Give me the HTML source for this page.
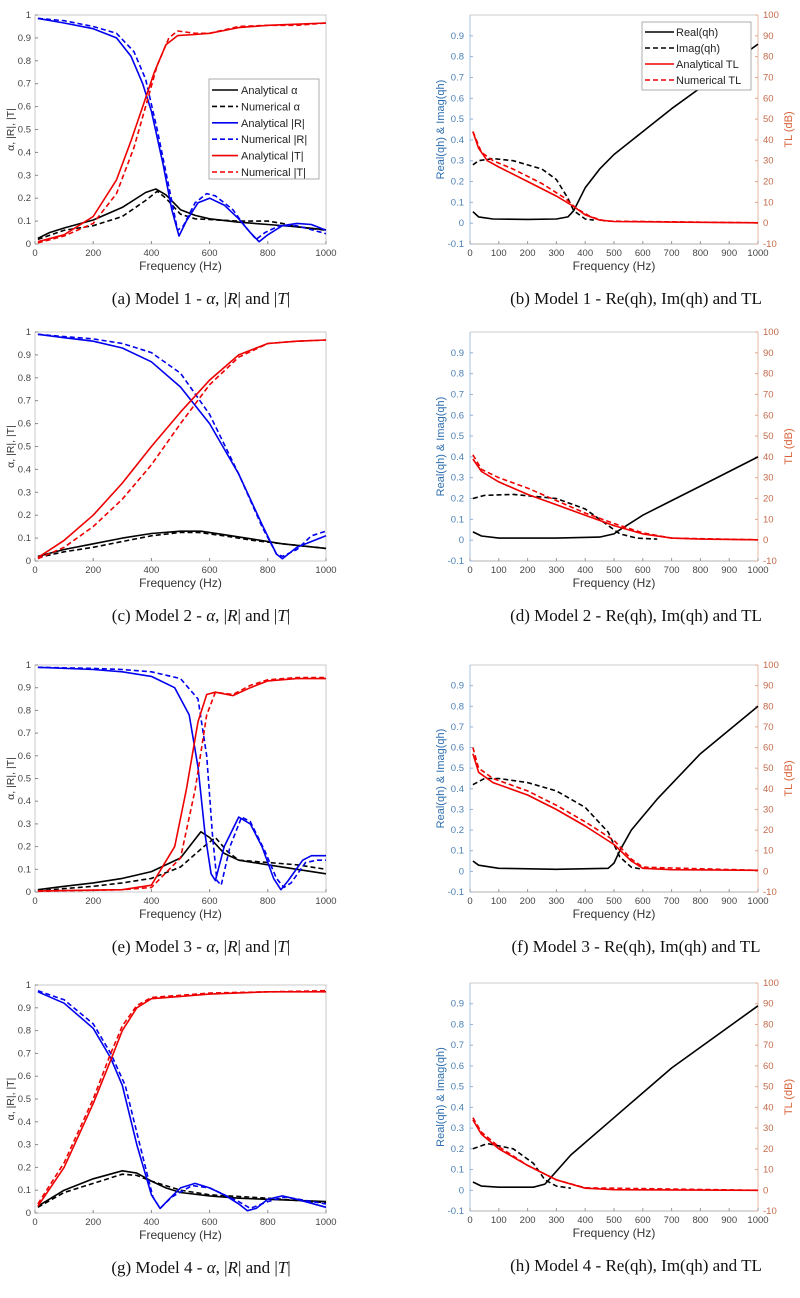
<!DOCTYPE html>
<html><head><meta charset="utf-8">
<style>
html,body{margin:0;padding:0;background:#fff;width:800px;height:1298px;overflow:hidden}
svg{display:block}
text{font-family:"Liberation Sans",sans-serif}
.cap{font-family:"Liberation Serif",serif;font-size:17px;fill:#111}
</style></head><body>
<svg id="s" width="800" height="1298" xmlns="http://www.w3.org/2000/svg"></svg>
<script>
const S=document.getElementById('s');let out='';
function path(pts,X,Y){const p=pts.map(q=>[X(q[0]),Y(q[1])]);let d='M'+p[0][0].toFixed(1)+','+p[0][1].toFixed(1);
for(let i=1;i<p.length;i++){d+='L'+p[i][0].toFixed(1)+','+p[i][1].toFixed(1);}return d;}
function line(pts,X,Y,col,dash){out+=`<path d="${path(pts,X,Y)}" fill="none" stroke="${col}" stroke-width="1.6" stroke-linejoin="round" ${dash?'stroke-dasharray="5,3"':''}/>`;}
function left(top,bot,cap,c,legend){const x0=35,x1=326;const X=f=>x0+(x1-x0)*f/1000,Y=v=>bot-(bot-top)*v;
out+=`<rect x="${x0}" y="${top}" width="${x1-x0}" height="${bot-top}" fill="none" stroke="#bbb" stroke-width="0.8"/>`;
for(let i=0;i<=10;i++){const y=Y(i/10);out+=`<line x1="${x0}" x2="${x0+3}" y1="${y}" y2="${y}" stroke="#888"/><text x="${x0-4}" y="${y+3}" font-size="9.5" fill="#444" text-anchor="end">${i==0?'0':i==10?'1':'0.'+i}</text>`;}
for(let f=0;f<=1000;f+=200){const x=X(f);out+=`<line x1="${x}" x2="${x}" y1="${bot}" y2="${bot-3}" stroke="#888"/><text x="${x}" y="${bot+12}" font-size="9.5" fill="#444" text-anchor="middle">${f}</text>`;}
out+=`<text x="${(x0+x1)/2}" y="${bot+26}" font-size="12" fill="#333" text-anchor="middle">Frequency (Hz)</text>`;
out+=`<text transform="translate(14,${(top+bot)/2}) rotate(-90)" font-size="10.5" fill="#333" text-anchor="middle">α, |R|, |T|</text>`;
line(c[0],X,Y,'#000');line(c[1],X,Y,'#000',1);line(c[2],X,Y,'#0000ee');line(c[3],X,Y,'#0000ee',1);line(c[4],X,Y,'#ee0000');line(c[5],X,Y,'#ee0000',1);
if(legend){out+=`<rect x="209" y="79" width="110" height="100" fill="#fff" stroke="#999" stroke-width="0.8"/>`;
const L=[['#000',0,'Analytical α'],['#000',1,'Numerical α'],['#0000ee',0,'Analytical |R|'],['#0000ee',1,'Numerical |R|'],['#ee0000',0,'Analytical |T|'],['#ee0000',1,'Numerical |T|']];
L.forEach((l,i)=>{const y=90+i*16.4;out+=`<line x1="212" x2="238" y1="${y}" y2="${y}" stroke="${l[0]}" stroke-width="1.6" ${l[1]?'stroke-dasharray="5,3"':''}/><text x="241" y="${y+4}" font-size="11" fill="#222">${l[2]}</text>`;});}
out+=`<text class="cap" x="201" y="${bot+60}" text-anchor="middle">${cap}</text>`;}
function right(top,bot,cap,c,legend){const x0=470,x1=758;const X=f=>x0+(x1-x0)*f/1000,Y=v=>bot-(bot-top)*(v+0.1)/1.1;
out+=`<line x1="${x0}" x2="${x1}" y1="${top}" y2="${top}" stroke="#bbb" stroke-width="0.8"/><line x1="${x0}" x2="${x1}" y1="${bot}" y2="${bot}" stroke="#999" stroke-width="0.8"/>`;
out+=`<line x1="${x0}" x2="${x0}" y1="${top}" y2="${bot}" stroke="#8fb3d9" stroke-width="0.8"/><line x1="${x1}" x2="${x1}" y1="${top}" y2="${bot}" stroke="#e0a88f" stroke-width="0.8"/>`;
for(let i=-1;i<=9;i++){const y=Y(i/10);out+=`<text x="${x0-6}" y="${y+3}" font-size="9.5" fill="#4a7fb3" text-anchor="end">${i==0?'0':i<0?'-0.1':'0.'+i}</text><line x1="${x0}" x2="${x0+3}" y1="${y}" y2="${y}" stroke="#8fb3d9"/>`;}
for(let i=-1;i<=10;i++){const y=Y(i/10);out+=`<text x="${x1+5}" y="${y+3}" font-size="9.5" fill="#c26a4a">${i*10}</text><line x1="${x1-3}" x2="${x1}" y1="${y}" y2="${y}" stroke="#e0a88f"/>`;}
for(let f=0;f<=1000;f+=100){const x=X(f);out+=`<text x="${x}" y="${bot+12}" font-size="9.5" fill="#444" text-anchor="middle">${f}</text><line x1="${x}" x2="${x}" y1="${bot}" y2="${bot-3}" stroke="#999"/>`;}
out+=`<text x="${(x0+x1)/2}" y="${bot+26}" font-size="12" fill="#333" text-anchor="middle">Frequency (Hz)</text>`;
out+=`<text transform="translate(444,${(top+bot)/2}) rotate(-90)" font-size="11" fill="#2f6fb0" text-anchor="middle">Real(qh) &amp; Imag(qh)</text>`;
out+=`<text transform="translate(792,${(top+bot)/2}) rotate(-90)" font-size="11" fill="#d9623a" text-anchor="middle">TL (dB)</text>`;
line(c[0],X,Y,'#000');line(c[1],X,Y,'#000',1);line(c[2],X,Y,'#ee0000');line(c[3],X,Y,'#ee0000',1);
if(legend){out+=`<rect x="642" y="22" width="109" height="68" fill="#fff" stroke="#999" stroke-width="0.8"/>`;
const L=[['#000',0,'Real(qh)'],['#000',1,'Imag(qh)'],['#ee0000',0,'Analytical TL'],['#ee0000',1,'Numerical TL']];
L.forEach((l,i)=>{const y=32+i*16;out+=`<line x1="645" x2="674" y1="${y}" y2="${y}" stroke="${l[0]}" stroke-width="1.6" ${l[1]?'stroke-dasharray="5,3"':''}/><text x="676" y="${y+4}" font-size="11" fill="#222">${l[2]}</text>`;});}
out+=`<text class="cap" x="636" y="${bot+60}" text-anchor="middle">${cap}</text>`;}

left(15,244,'(a) Model 1 - <tspan font-style="italic">α</tspan>, |<tspan font-style="italic">R</tspan>| and |<tspan font-style="italic">T</tspan>|',[
[[10,.025],[50,.05],[100,.07],[200,.105],[300,.16],[380,.225],[415,.24],[450,.215],[500,.15],[550,.125],[600,.11],[700,.095],[800,.085],[900,.075],[1000,.062]],
[[10,.02],[100,.06],[200,.08],[300,.12],[380,.19],[420,.23],[450,.2],[500,.13],[550,.11],[700,.1],[800,.1],[850,.09],[900,.075],[1000,.06]],
[[10,.985],[100,.965],[200,.94],[280,.9],[330,.82],[370,.7],[400,.58],[440,.35],[470,.15],[495,.035],[520,.1],[560,.18],[600,.2],[650,.17],[700,.11],[740,.05],[770,.01],[800,.04],[850,.08],[900,.09],[950,.085],[1000,.06]],
[[10,.985],[100,.975],[200,.95],[280,.92],[340,.84],[380,.72],[420,.5],[460,.25],[490,.06],[510,.08],[550,.18],[590,.22],[620,.21],[680,.15],[720,.08],[760,.02],[790,.05],[840,.08],[900,.08],[1000,.045]],
[[10,.01],[100,.04],[200,.12],[280,.28],[330,.45],[370,.6],[410,.75],[450,.87],[490,.91],[550,.915],[600,.92],[700,.945],[800,.955],[900,.96],[1000,.965]],
[[10,.005],[100,.035],[200,.09],[280,.22],[340,.42],[380,.6],[420,.78],[460,.9],[490,.93],[550,.92],[600,.92],[700,.95],[800,.955],[900,.955],[1000,.965]]],true);
right(15,244,'(b) Model 1 - Re(qh), Im(qh) and TL',[
[[10,.055],[30,.03],[80,.02],[200,.018],[300,.02],[340,.03],[360,.06],[400,.17],[450,.26],[500,.33],[600,.44],[700,.55],[800,.65],[900,.76],[1000,.86]],
[[10,.28],[30,.3],[80,.31],[150,.3],[250,.26],[300,.21],[340,.12],[360,.06],[400,.02],[430,.015]],
[[10,.44],[30,.36],[60,.3],[100,.27],[200,.2],[300,.13],[360,.08],[400,.04],[450,.015],[500,.008],[700,.005],[1000,.002]],
[[10,.44],[40,.34],[80,.3],[150,.26],[250,.19],[330,.12],[370,.07],[420,.03],[470,.01],[1000,.002]]],true);
left(332,561,'(c) Model 2 - <tspan font-style="italic">α</tspan>, |<tspan font-style="italic">R</tspan>| and |<tspan font-style="italic">T</tspan>|',[
[[10,.02],[100,.05],[200,.075],[300,.1],[400,.12],[500,.13],[570,.13],[650,.115],[750,.095],[850,.075],[1000,.055]],
[[10,.015],[100,.04],[200,.06],[300,.085],[400,.11],[500,.125],[560,.125],[650,.11],[750,.09],[850,.075],[1000,.055]],
[[10,.99],[100,.975],[200,.96],[300,.93],[400,.87],[500,.76],[600,.6],[700,.38],[780,.16],[830,.03],[850,.01],[900,.06],[1000,.11]],
[[10,.99],[100,.98],[200,.97],[300,.95],[400,.91],[500,.82],[600,.64],[700,.38],[780,.15],[830,.03],[850,.02],[900,.05],[950,.11],[1000,.13]],
[[10,.015],[100,.09],[200,.2],[300,.34],[400,.5],[500,.65],[600,.79],[700,.9],[800,.95],[900,.96],[1000,.965]],
[[10,.01],[100,.06],[200,.15],[300,.27],[400,.42],[500,.6],[600,.77],[700,.89],[800,.95],[900,.96],[1000,.965]]]);
right(332,561,'(d) Model 2 - Re(qh), Im(qh) and TL',[
[[10,.04],[40,.02],[100,.01],[300,.01],[450,.015],[500,.03],[520,.05],[600,.12],[700,.19],[800,.26],[900,.33],[1000,.4]],
[[10,.2],[50,.215],[150,.22],[300,.2],[400,.15],[470,.08],[520,.03],[580,.01],[650,.005]],
[[10,.39],[40,.33],[100,.28],[200,.22],[300,.17],[400,.12],[500,.07],[600,.03],[700,.01],[800,.005],[1000,.002]],
[[10,.41],[40,.34],[100,.3],[200,.25],[300,.19],[400,.13],[500,.08],[600,.035],[700,.01],[1000,.002]]]);
left(665,892,'(e) Model 3 - <tspan font-style="italic">α</tspan>, |<tspan font-style="italic">R</tspan>| and |<tspan font-style="italic">T</tspan>|',[
[[10,.01],[100,.025],[200,.04],[300,.06],[400,.09],[500,.15],[570,.265],[600,.24],[650,.17],[700,.14],[800,.12],[900,.1],[1000,.08]],
[[10,.005],[100,.015],[200,.025],[300,.04],[400,.06],[500,.11],[580,.2],[620,.24],[660,.18],[700,.14],[800,.13],[900,.12],[1000,.1]],
[[10,.99],[200,.98],[300,.97],[400,.95],[480,.9],[530,.78],[560,.55],[585,.25],[605,.08],[620,.05],[650,.2],[700,.33],[740,.3],[780,.2],[820,.06],[845,.01],[870,.05],[920,.14],[950,.16],[1000,.16]],
[[10,.99],[200,.985],[300,.98],[400,.97],[500,.94],[560,.85],[590,.6],[610,.25],[625,.05],[640,.03],[670,.2],[710,.33],[740,.31],[790,.18],[830,.06],[855,.02],[880,.04],[930,.13],[970,.14],[1000,.14]],
[[10,.005],[300,.01],[400,.03],[480,.2],[520,.45],[560,.75],[590,.87],[620,.88],[680,.865],[740,.9],[800,.93],[900,.94],[1000,.94]],
[[10,.003],[300,.01],[400,.02],[500,.15],[550,.45],[590,.78],[620,.88],[680,.87],[740,.91],[800,.935],[900,.945],[1000,.945]]]);
right(665,892,'(f) Model 3 - Re(qh), Im(qh) and TL',[
[[10,.05],[30,.03],[100,.015],[300,.01],[480,.015],[500,.04],[520,.1],[560,.2],[650,.35],[800,.57],[1000,.8]],
[[10,.42],[50,.45],[100,.45],[200,.43],[300,.39],[400,.31],[480,.19],[520,.07],[560,.02],[600,.01]],
[[10,.57],[30,.48],[80,.43],[200,.37],[300,.3],[400,.22],[500,.13],[560,.05],[600,.015],[700,.008],[1000,.005]],
[[10,.6],[30,.5],[80,.45],[200,.39],[300,.32],[400,.24],[500,.15],[560,.06],[600,.02],[1000,.005]]]);
left(985,1213,'(g) Model 4 - <tspan font-style="italic">α</tspan>, |<tspan font-style="italic">R</tspan>| and |<tspan font-style="italic">T</tspan>|',[
[[10,.03],[100,.1],[200,.15],[300,.185],[350,.175],[400,.14],[450,.11],[500,.09],[600,.075],[700,.065],[800,.06],[1000,.05]],
[[10,.025],[100,.09],[200,.13],[300,.17],[350,.165],[400,.14],[500,.1],[600,.08],[800,.065],[1000,.045]],
[[10,.97],[100,.92],[200,.81],[260,.68],[300,.56],[350,.3],[400,.08],[430,.02],[460,.06],[500,.11],[550,.13],[600,.11],[650,.08],[700,.04],[730,.01],[760,.02],[800,.06],[850,.075],[900,.06],[1000,.025]],
[[10,.975],[100,.935],[200,.83],[260,.7],[310,.56],[360,.3],[405,.07],[430,.02],[470,.07],[540,.12],[600,.11],[700,.05],[740,.02],[800,.05],[860,.07],[1000,.04]],
[[10,.03],[100,.2],[200,.48],[260,.67],[300,.8],[350,.9],[400,.94],[500,.95],[600,.96],[800,.97],[1000,.97]],
[[10,.04],[100,.22],[200,.5],[260,.7],[300,.82],[350,.91],[400,.945],[500,.955],[600,.965],[1000,.975]]]);
right(983,1211,'(h) Model 4 - Re(qh), Im(qh) and TL',[
[[10,.04],[40,.02],[100,.015],[220,.015],[260,.03],[280,.06],[350,.17],[500,.35],[700,.59],[1000,.89]],
[[10,.2],[60,.225],[150,.2],[220,.13],[260,.05],[300,.02],[350,.01]],
[[10,.34],[40,.27],[100,.2],[200,.12],[300,.05],[400,.01],[500,.003],[1000,0]],
[[10,.35],[40,.28],[100,.21],[200,.12],[300,.05],[400,.012],[1000,0]]]);
S.innerHTML=out;
</script>
</body></html>
